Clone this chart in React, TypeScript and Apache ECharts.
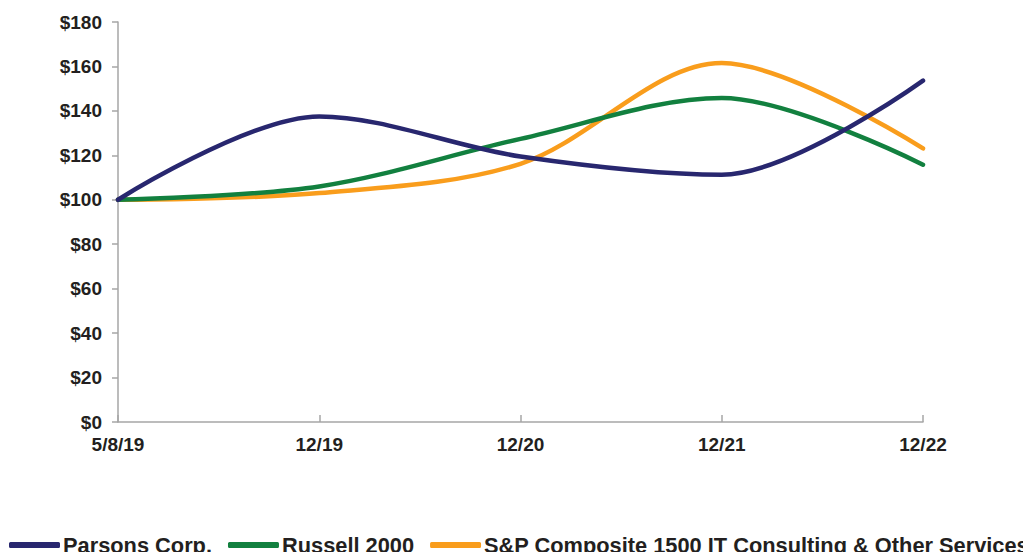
import React, { useEffect, useRef } from "react";
import * as echarts from "echarts";

const categories = ["5/8/19", "12/19", "12/20", "12/21", "12/22"];
const parsons = [100, 137.5, 119.5, 111.3, 153.6];
const russell = [100, 106, 127.4, 145.8, 115.8];
const spIT = [100, 103, 116.2, 161.5, 123.1];
const seriesNames = [
  "Parsons Corp.",
  "Russell 2000",
  "S&P Composite 1500 IT Consulting & Other Services",
];
const colors = ["#28276F", "#12803F", "#F99D1C"];

const FONT = "'Liberation Sans', Arial, Helvetica, sans-serif";
const TEXT = "#231F20";
const AXIS = "#A6A6A6";

export default function App() {
  const ref = useRef<HTMLDivElement>(null);
  useEffect(() => {
    if (!ref.current) return;
    const chart = echarts.init(ref.current, null, { renderer: "svg" });
    const data = [parsons, russell, spIT];
    chart.setOption({
      animation: false,
      grid: { left: 118, right: 108, top: 22, bottom: 130, containLabel: false },
      legend: {
        left: 9,
        top: 534,
        width: 1400,
        padding: 0,
        itemWidth: 51,
        itemHeight: 6,
        itemGap: 16,
        icon: "roundRect",
        data: seriesNames,
        textStyle: {
          fontFamily: FONT,
          fontWeight: "bold",
          fontSize: 21.8,
          color: TEXT,
          lineHeight: 22,
          padding: [0, 0, 0, -2],
        },
      },
      xAxis: {
        type: "category",
        data: categories,
        boundaryGap: false,
        axisLine: { show: true, lineStyle: { color: AXIS, width: 1.5 } },
        axisTick: { show: true, inside: true, length: 7, lineStyle: { color: AXIS, width: 1.5 } },
        axisLabel: {
          margin: 13,
          fontFamily: FONT,
          fontWeight: "bold",
          fontSize: 19,
          color: TEXT,
        },
        splitLine: { show: false },
      },
      yAxis: {
        type: "value",
        min: 0,
        max: 180,
        interval: 20,
        axisLine: { show: true, lineStyle: { color: AXIS, width: 1.5 } },
        axisTick: { show: true, inside: false, length: 6, lineStyle: { color: AXIS, width: 1.5 } },
        axisLabel: {
          margin: 16,
          formatter: (v: number) => "$" + v,
          fontFamily: FONT,
          fontWeight: "bold",
          fontSize: 19,
          color: TEXT,
        },
        splitLine: { show: false },
      },
      series: seriesNames.map((name, i) => ({
        name,
        type: "line",
        data: data[i],
        smooth: 0.33,
        symbol: "none",
        color: colors[i],
        lineStyle: { width: 4.5, color: colors[i], cap: "round", join: "round" },
        z: 3 - i,
      })),
    });
    return () => chart.dispose();
  }, []);
  return <div ref={ref} style={{ width: 1031, height: 552, marginLeft: -8, marginTop: -8 }} />;
}
